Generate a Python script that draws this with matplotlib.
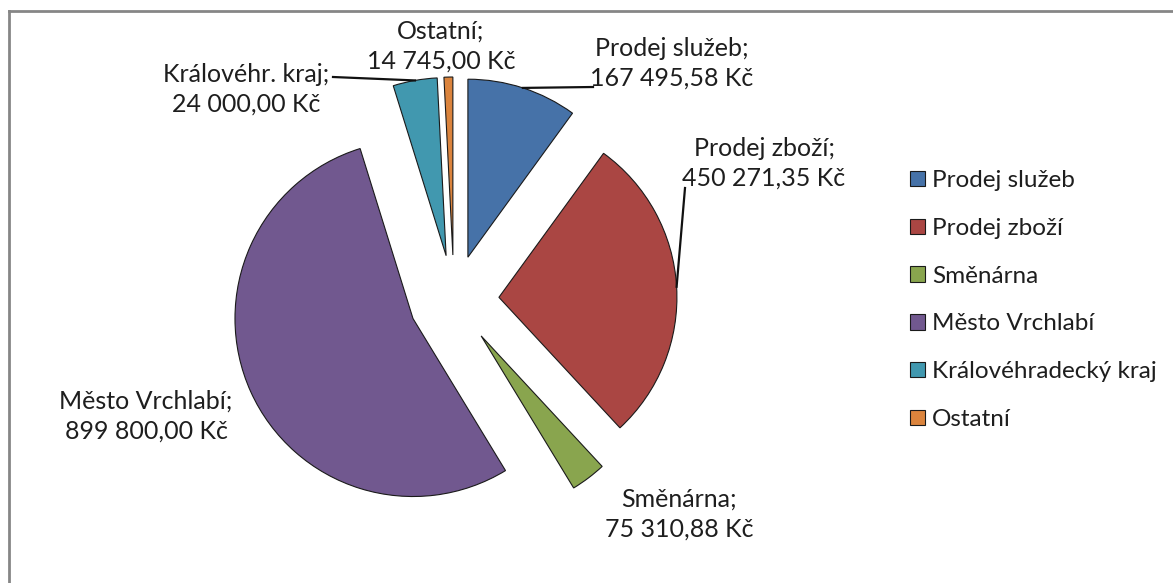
import matplotlib
matplotlib.use("Agg")
import math
import matplotlib.pyplot as plt
from matplotlib.lines import Line2D
from matplotlib.patches import Patch

W, H = 1173, 583

categories = [
    "Prodej služeb",
    "Prodej zboží",
    "Směnárna",
    "Město Vrchlabí",
    "Královéhradecký kraj",
    "Ostatní",
]
label_names = [
    "Prodej služeb",
    "Prodej zboží",
    "Směnárna",
    "Město Vrchlabí",
    "Královéhr. kraj",
    "Ostatní",
]
amounts = [167495.58, 450271.35, 75310.88, 899800.00, 24000.00, 14745.00]
# slice sizes as drawn in the reference (percent of the circle)
slice_shares = [10.0, 28.1, 3.2, 53.9, 4.0, 0.8]
colors = ["#4672A8", "#AA4643", "#89A54E", "#71588F", "#4198AF", "#DB843D"]

FONT = ["Lato", "DejaVu Sans"]
FS = 18
LEGEND_FS = 17.5
TEXT_COLOR = "#1e1e1e"


def czk(value):
    s = f"{value:,.2f}".replace(",", " ").replace(".", ",")
    return f"{s} Kč"


def px(x, y):
    # image pixel coords (y down) -> axes data coords (y up)
    return x, H - y


fig = plt.figure(figsize=(W / 100, H / 100), dpi=100)
ax = fig.add_axes([0, 0, 1, 1])

wedges, _ = ax.pie(
    slice_shares,
    startangle=90,
    counterclock=False,
    colors=colors,
    radius=178,
    center=px(454, 300),
    explode=[45] * len(slice_shares),
    wedgeprops=dict(edgecolor="#1a1a1a", linewidth=0.8),
)
ax.set_xlim(0, W)
ax.set_ylim(0, H)
ax.set_aspect("equal")
ax.axis("off")

# data labels: (text centre of block, leader line end or None)
label_spots = [
    ((672, 63), (593, 87)),
    ((764, 163), (685, 188)),
    ((679, 514), None),
    ((146, 416), None),
    ((246, 89), (333, 77)),
    ((441, 46), None),
]

for wedge, name, amount, (spot, leader_end) in zip(wedges, label_names, amounts, label_spots):
    ax.text(
        *px(*spot),
        f"{name};\n{czk(amount)}",
        ha="center",
        va="center",
        fontsize=FS,
        family=FONT,
        color=TEXT_COLOR,
        linespacing=1.35,
    )
    if leader_end is not None:
        mid = math.radians((wedge.theta1 + wedge.theta2) / 2)
        cx, cy = wedge.center
        anchor = (cx + wedge.r * math.cos(mid), cy + wedge.r * math.sin(mid))
        end = px(*leader_end)
        ax.add_line(
            Line2D([anchor[0], end[0]], [anchor[1], end[1]], color="#111111", linewidth=1.6)
        )

handles = [Patch(facecolor=c, edgecolor="#1a1a1a", linewidth=0.8) for c in colors]
fig.legend(
    handles,
    categories,
    loc="center left",
    bbox_to_anchor=(910 / W, 1 - 300 / H),
    frameon=False,
    prop={"family": FONT, "size": LEGEND_FS},
    handlelength=0.6,
    handleheight=0.6,
    handletextpad=0.3,
    labelspacing=1.1,
    borderpad=0,
    borderaxespad=0,
    labelcolor=TEXT_COLOR,
)

# chart area border (top and left edges visible in the crop)
fig.add_artist(Line2D([9 / W, 1], [1 - 11 / H, 1 - 11 / H], transform=fig.transFigure,
                      color="#868686", linewidth=2))
fig.add_artist(Line2D([9 / W, 9 / W], [0, 1 - 11 / H], transform=fig.transFigure,
                      color="#868686", linewidth=2))

fig.savefig("out.png", dpi=100)
